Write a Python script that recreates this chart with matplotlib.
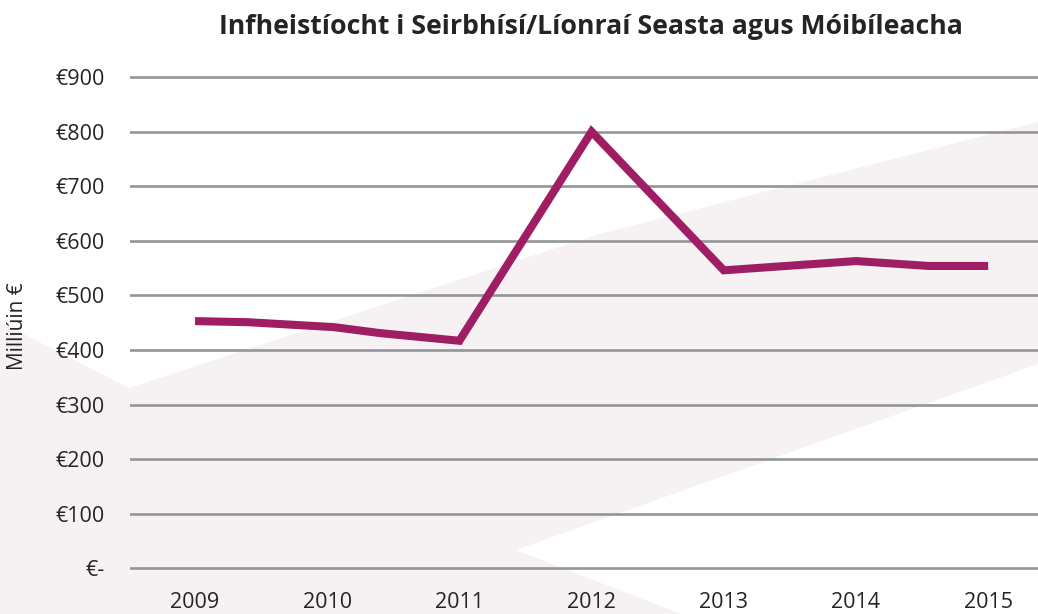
import matplotlib.pyplot as plt
from matplotlib.patches import Polygon

# investment in fixed / mobile services and networks, million euro
years = [2009, 2009.4, 2010.05, 2010.4, 2011, 2012, 2013, 2014, 2014.55, 2015]
invest = [453, 451, 442, 431, 417, 800, 546, 563, 554, 554]

tick_years = [2009, 2010, 2011, 2012, 2013, 2014, 2015]
tick_vals = [0, 100, 200, 300, 400, 500, 600, 700, 800, 900]
tick_text = ['€-', '€100', '€200', '€300', '€400', '€500', '€600', '€700', '€800', '€900']

title = 'Infheistíocht i Seirbhísí/Líonraí Seasta agus Móibíleacha'
ylab = 'Milliúin €'

plt.rcParams['font.family'] = ['Open Sans', 'DejaVu Sans']
txt = '#262324'
W, H = 1038, 614

fig = plt.figure(figsize=(W / 100, H / 100), dpi=100)

# pale background band behind the plot (pixel outline, y measured from top)
band = [(0, 322), (129, 388), (596, 235), (1038, 122), (1038, 364),
        (516, 550), (681, 614), (0, 614)]
band = [(x / W, 1 - y / H) for x, y in band]
fig.patches.append(Polygon(band, closed=True, transform=fig.transFigure,
                           facecolor='#f6f2f3', edgecolor='none', zorder=-5))

ax = fig.add_axes([130 / W, 0.0564, 1 - 130 / W, 0.8359])
ax.patch.set_alpha(0)
for s in ax.spines.values():
    s.set_visible(False)

for v in tick_vals:
    ax.axhline(v, color='#939598', lw=1.9, zorder=1)

ax.plot(years, invest, color='#9f1d62', lw=5.8, solid_joinstyle='miter',
        solid_capstyle='butt', zorder=3)

ax.set_xlim(2008.508, 2015.377)
ax.set_ylim(-20, 920)
ax.set_xticks(tick_years)
ax.set_xticklabels([str(y) for y in tick_years])
ax.set_yticks(tick_vals)
ax.set_yticklabels(tick_text)
ax.tick_params(length=0, labelsize=15.5, colors=txt)
ax.tick_params(axis='y', pad=18)
ax.tick_params(axis='x', pad=9)

fig.text(18 / W, 1 - 326 / H, ylab, rotation=90, ha='center', va='center',
         fontsize=15, color=txt)
fig.text(591 / W, 1 - 27 / H, title, ha='center', va='center',
         fontsize=19.2, fontweight='bold', color=txt)

fig.savefig('out.png', dpi=100)
